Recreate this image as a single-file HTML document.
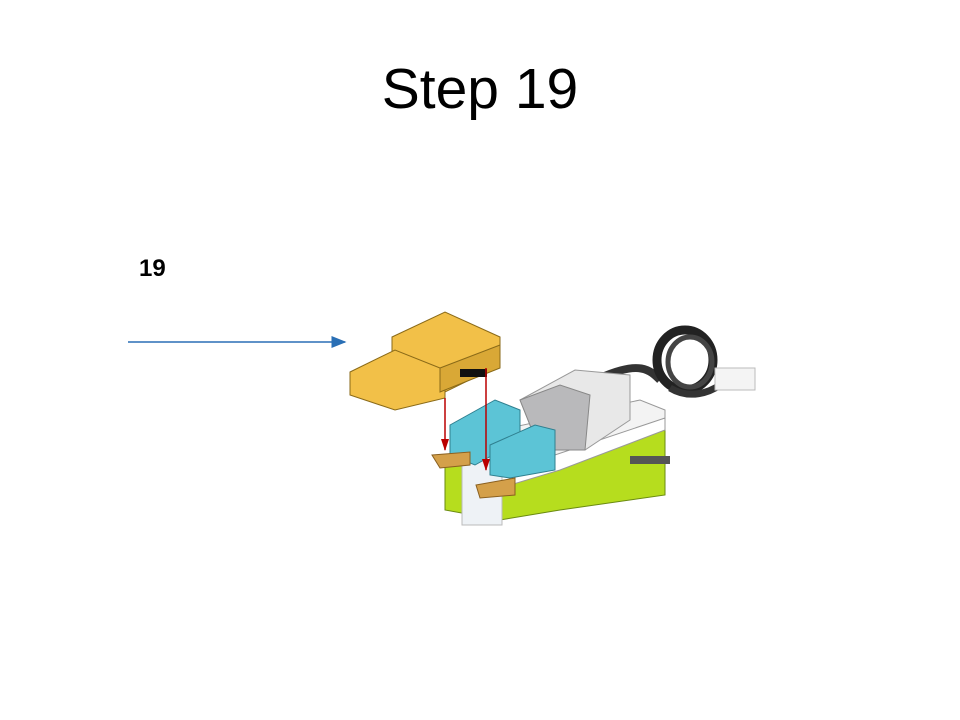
<!DOCTYPE html>
<html><head><style>
body{margin:0;width:960px;height:720px;background:#fff;position:relative;overflow:hidden;font-family:"Liberation Sans",sans-serif}
#t{position:absolute;top:56px;left:0;width:960px;text-align:center;font-size:57px;color:#000}
#n{position:absolute;left:139px;top:255px;font-size:24px;font-weight:bold}
svg{position:absolute;left:0;top:0}
</style></head><body>
<div id="t">Step 19</div>
<div id="n">19</div>
<svg width="960" height="720">
<defs><marker id="ab" markerWidth="10" markerHeight="8" refX="9" refY="4" orient="auto"><path d="M0,0 L10,4 L0,8z" fill="#2a6fb5"/></marker>
<marker id="ar" markerWidth="12" markerHeight="8" refX="11" refY="4" orient="auto" markerUnits="userSpaceOnUse"><path d="M0,0 L12,4 L0,8z" fill="#b00"/></marker></defs>
<line x1="128" y1="342" x2="345" y2="342" stroke="#2a6fb5" stroke-width="1.5" marker-end="url(#ab)"/>
<!-- cable -->
<path d="M600,378 C640,360 650,370 660,380" stroke="#333" stroke-width="8" fill="none"/>
<ellipse cx="685" cy="360" rx="28" ry="30" fill="none" stroke="#222" stroke-width="9"/>
<ellipse cx="690" cy="362" rx="22" ry="25" fill="none" stroke="#444" stroke-width="5"/>
<path d="M670,388 C690,400 710,392 720,385" stroke="#333" stroke-width="7" fill="none"/>
<rect x="715" y="368" width="40" height="22" fill="#f4f4f4" stroke="#bbb"/>
<!-- green base -->
<polygon points="445,460 560,450 665,420 665,495 560,510 500,520 445,510" fill="#b6dd1e" stroke="#6a8a10"/>
<polygon points="470,470 665,418 665,430 560,470 500,488 470,488" fill="#fff" stroke="#999"/>
<!-- white plate -->
<polygon points="500,430 640,400 665,410 665,418 540,460 500,465" fill="#f3f3f3" stroke="#999"/>
<!-- motor -->
<polygon points="520,400 575,370 630,375 630,420 585,450 540,450" fill="#e8e8e8" stroke="#999"/>
<polygon points="520,400 560,385 590,395 585,450 540,450" fill="#b9b9bb" stroke="#888"/>
<!-- transparent -->
<rect x="462" y="440" width="40" height="85" fill="#eef2f6" stroke="#bbb"/>
<!-- blue bricks -->
<polygon points="450,425 495,400 520,410 520,440 475,465 450,455" fill="#5cc4d6" stroke="#2f7f8f"/>
<polygon points="490,445 535,425 555,430 555,470 510,478 490,475" fill="#5cc4d6" stroke="#2f7f8f"/>
<!-- tan plates -->
<polygon points="432,455 470,452 470,465 440,468" fill="#d4a04a" stroke="#8a6020"/>
<polygon points="476,485 515,478 515,495 480,498" fill="#d4a04a" stroke="#8a6020"/>
<!-- axle -->
<rect x="630" y="456" width="40" height="8" fill="#555"/>
<!-- yellow brick -->
<polygon points="392,337 445,312 500,337 500,365 445,392 392,370" fill="#f2c048" stroke="#8a6a18"/>
<polygon points="350,372 395,350 445,370 445,398 395,410 350,395" fill="#f2c048" stroke="#8a6a18"/>
<polygon points="440,368 500,345 500,368 440,392" fill="#d9a836" stroke="#8a6a18"/>
<rect x="460" y="369" width="27" height="8" fill="#111"/>
<line x1="445" y1="398" x2="445" y2="450" stroke="#b00" stroke-width="1.5" marker-end="url(#ar)"/>
<line x1="486" y1="368" x2="486" y2="470" stroke="#b00" stroke-width="1.5" marker-end="url(#ar)"/>
</svg>
</body></html>
